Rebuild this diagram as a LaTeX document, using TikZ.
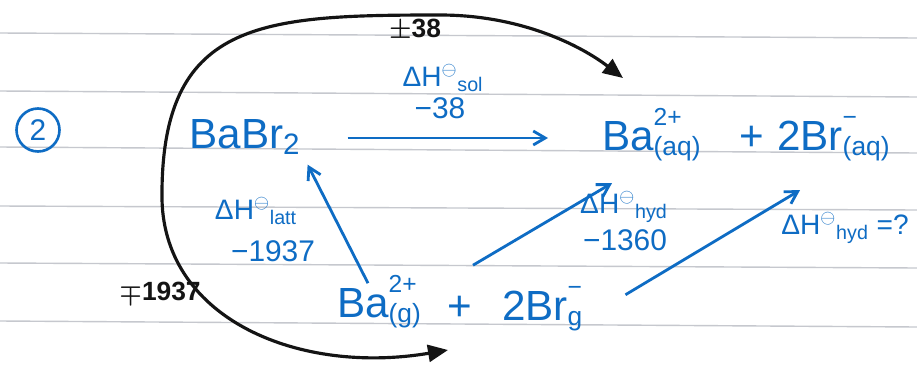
\documentclass[tikz,border=0pt]{standalone}
\usepackage{fontspec}
\setmainfont{Liberation Sans}
\usetikzlibrary{arrows.meta, calc}

\definecolor{ink}{RGB}{14,108,196}
\definecolor{pen}{RGB}{20,20,20}
\definecolor{ruling}{RGB}{198,200,206}

% charge above, state below, both after the symbol
\newcommand{\chg}[2]{\rlap{\raisebox{1.1ex}{\fontsize{14}{16}\selectfont#1}}%
	\raisebox{-0.25ex}{\fontsize{15}{17}\selectfont#2}}
\newcommand{\dH}[1]{ΔH\textsuperscript{$\ominus$}\textsubscript{#1}}

\begin{document}
\begin{tikzpicture}[
		x=0.02cm, y=-0.02cm,
		% species written in blue
		species/.style={
			text=ink,
			font=\fontsize{24}{28}\selectfont,
			inner sep=1pt
		},
		% enthalpy names and values
		enth/.style={
			text=ink,
			font=\fontsize{16}{19}\selectfont,
			inner sep=1pt
		},
		value/.style={
			text=ink,
			font=\fontsize{17}{20}\selectfont,
			inner sep=1pt
		},
		% black pen labels of the cycle
		cyclab/.style={
			text=pen,
			font=\fontsize{15}{18}\selectfont\bfseries\boldmath,
			inner sep=1pt
		},
		flow/.style={
			draw=ink, line width=1.6pt,
			-{Straight Barb[length=2.4mm,width=2.8mm]}
		},
		roundtrip/.style={
			draw=pen, line width=1.8pt,
			{Triangle[length=4mm,width=3.4mm]}-{Triangle[length=4mm,width=3.4mm]}
		},
		rule/.style={draw=ruling, line width=0.8pt}
		]
		% --- PAGE ---
		\fill[white] (0,0) rectangle (917,369);
		\useasboundingbox (0,0) rectangle (917,369);
		\foreach \ya/\yb in {33/38, 91/97, 147/153, 206/210, 263/268, 321/327}
			\draw[rule] (0,\ya) -- (917,\yb);
		
		% --- SPECIES ---
		\node[draw=ink, circle, line width=1.5pt, minimum size=0.86cm, text=ink,
			font=\fontsize{17}{19}\selectfont, inner sep=0pt] (num) at (38,130) {2};
		
		\node[species, anchor=base] (babr) at (245,148) {BaBr\textsubscript{2}};
		
		\node[species, anchor=base west] (baaq) at (600,150) {Ba\chg{2+}{(aq)}};
		\node[species, anchor=base] (plusaq) at (752,150) {+};
		\node[species, anchor=base west] (braq) at (775,150) {2Br\chg{−}{(aq)}};
		
		\node[species, anchor=base west] (bag) at (335,317) {Ba\chg{2+}{(g)}};
		\node[species, anchor=base] (plusg) at (460,320) {+};
		\node[species, anchor=base west] (brg) at (500,320) {2Br\chg{−}{g}};
		
		% --- ENTHALPIES ---
		\node[enth] (sollab) at (443,78) {\dH{sol}};
		\node[value] (solval) at (440,108) {−38};
		
		\node[enth] (lattlab) at (256,211) {\dH{latt}};
		\node[value] (lattval) at (273,251) {−1937};
		
		\node[enth] (hydlab) at (624,207) {\dH{hyd}};
		\node[value] (hydval) at (625,240) {−1360};
		
		\node[enth] (hydask) at (845,228) {\dH{hyd} =?};
		
		% --- ARROWS ---
		\draw[flow] ($(babr.base east)+(45,-10)$) -- ($(baaq.base west)+(-52,-12)$);
		\draw[flow] ($(bag.north west)+(33,10)$) -- ($(babr.south east)+(5,8)$);
		\draw[flow] ($(bag.north east)+(50,-8)$) -- ($(baaq.south west)+(12,20)$);
		\draw[flow] ($(brg.east)+(41,-14)$) -- ($(braq.south west)+(25,27)$);
		
		% --- CYCLE (black pen) ---
		\coordinate (cycin) at (448,350);
		\coordinate (cycout) at (623,78);
		\draw[roundtrip] (cycin) .. controls (300,375) and (165,320) .. (162,200)
			.. controls (160,20) and (260,15) .. (440,15)
			.. controls (520,15) and (580,45) .. (cycout);
		
		\node[cyclab] (cyctop) at (415,30) {$\pm$38};
		\node[cyclab] (cycbot) at (160,293) {$\mp$1937};
		
	\end{tikzpicture}
\end{document}
